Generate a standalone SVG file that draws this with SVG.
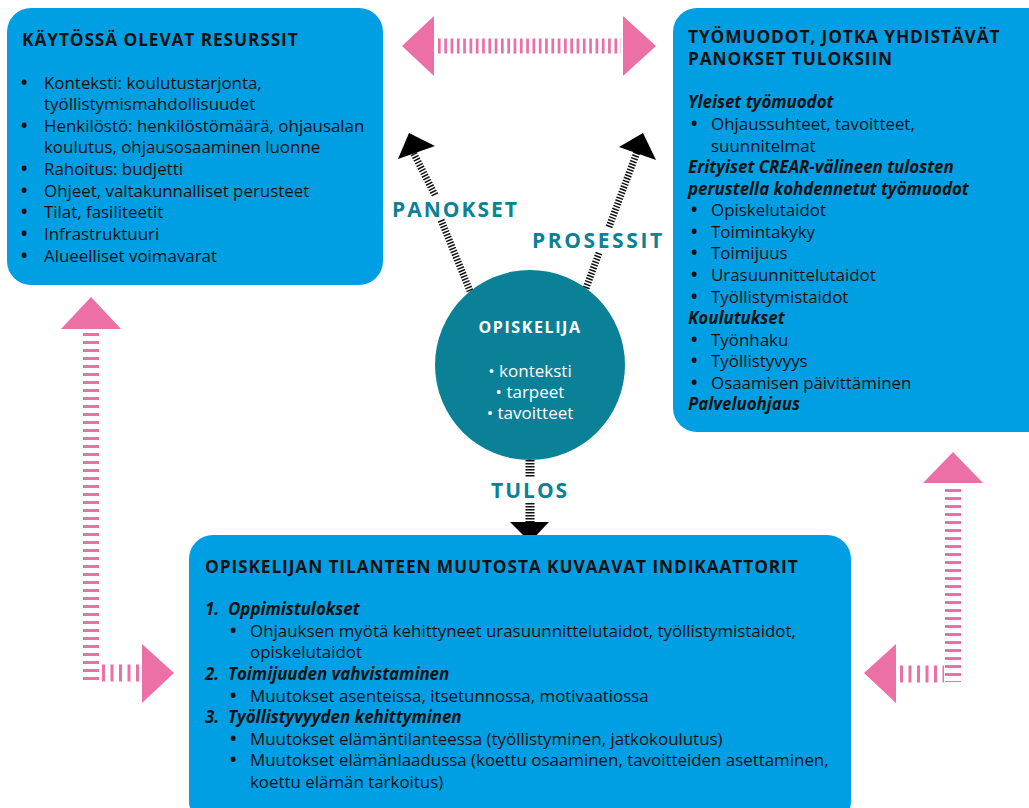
<svg xmlns="http://www.w3.org/2000/svg" width="1029" height="808" viewBox="0 0 1029 808">
<style>
.box{fill:#009fe3}
.t{font-family:"Open Sans","Liberation Sans",sans-serif;font-size:16.9px;fill:#111}
.b{font-weight:bold}
.h{font-family:"Open Sans","Liberation Sans",sans-serif;font-size:17.3px;font-weight:bold;fill:#111;letter-spacing:0.9px}
.bi{font-family:"Open Sans","Liberation Sans",sans-serif;font-size:16.9px;font-weight:bold;font-style:italic;fill:#111}
.lbl{font-family:"Open Sans","Liberation Sans",sans-serif;font-size:21px;font-weight:bold;fill:#0b8197;letter-spacing:2px}
.ct{font-family:"Open Sans","Liberation Sans",sans-serif;font-size:17px;fill:#fff;text-anchor:middle}
.pinkv{stroke:#ec6fa6;stroke-width:16;stroke-dasharray:3 5;fill:none}
.pinkh{stroke:#ec6fa6;stroke-width:17;stroke-dasharray:3 5.5;fill:none}
.blk{stroke:#111;stroke-width:7;stroke-dasharray:1.5 1.5;fill:none}
.ph{fill:#ec6fa6}
</style>
<g id="connectors">
  <line x1="438" y1="46" x2="621" y2="46" style="stroke:#ec6fa6;stroke-width:15;stroke-dasharray:2.7 3.6"/>
  <polygon class="ph" points="402,46 434,16 434,76"/>
  <polygon class="ph" points="656,46 623,16 623,76"/>
  <line class="pinkv" x1="91" y1="333" x2="91" y2="682"/>
  <line class="pinkh" x1="102" y1="673" x2="140" y2="673"/>
  <polygon class="ph" points="91,297 61,329 121,329"/>
  <polygon class="ph" points="174,673 142,644 142,703"/>
  <line class="pinkv" x1="953" y1="489" x2="953" y2="682"/>
  <line class="pinkh" x1="900" y1="674" x2="944" y2="674"/>
  <polygon class="ph" points="953,452 923,483 983,483"/>
  <polygon class="ph" points="864,673 896,644 896,703"/>
  <line class="blk" x1="470" y1="291" x2="441" y2="220"/>
  <line class="blk" x1="435" y1="195" x2="413" y2="152"/>
  <polygon fill="#000" points="409,133 435,146 398,159"/>
  <line class="blk" x1="585" y1="291" x2="599" y2="253"/>
  <line class="blk" x1="609" y1="227" x2="637" y2="152"/>
  <polygon fill="#000" points="643,133 656,160 619,147"/>
  <line x1="530" y1="460" x2="530" y2="478" style="stroke:#111;stroke-width:9;stroke-dasharray:1.5 1.5"/>
  <line x1="530" y1="503" x2="530" y2="522" style="stroke:#111;stroke-width:9;stroke-dasharray:1.5 1.5"/>
  <polygon fill="#000" points="510,522 549,522 530,542"/>
  <text class="lbl" x="392" y="217">PANOKSET</text>
  <text class="lbl" x="532" y="248" style="letter-spacing:2.6px">PROSESSIT</text>
  <text class="lbl" x="491" y="498">TULOS</text>
</g>
<g id="resurssit">
  <rect class="box" x="7" y="8" width="376" height="277" rx="24"/>
  <text class="h" x="22" y="46">KÄYTÖSSÄ OLEVAT RESURSSIT</text>
  <g class="t">
    <text class="b" x="21" y="89">•</text><text x="44" y="89">Konteksti: koulutustarjonta,</text>
    <text x="44" y="110">työllistymismahdollisuudet</text>
    <text class="b" x="21" y="132">•</text><text x="44" y="132">Henkilöstö: henkilöstömäärä, ohjausalan</text>
    <text x="44" y="153">koulutus, ohjausosaaminen luonne</text>
    <text class="b" x="21" y="175">•</text><text x="44" y="175">Rahoitus: budjetti</text>
    <text class="b" x="21" y="197">•</text><text x="44" y="197">Ohjeet, valtakunnalliset perusteet</text>
    <text class="b" x="21" y="218">•</text><text x="44" y="218">Tilat, fasiliteetit</text>
    <text class="b" x="21" y="240">•</text><text x="44" y="240">Infrastruktuuri</text>
    <text class="b" x="21" y="262">•</text><text x="44" y="262">Alueelliset voimavarat</text>
  </g>
</g>
<g id="tyomuodot">
  <rect class="box" x="673" y="8" width="380" height="424" rx="24"/>
  <text class="h" x="688" y="43">TYÖMUODOT, JOTKA YHDISTÄVÄT</text>
  <text class="h" x="688" y="65">PANOKSET TULOKSIIN</text>
  <g class="t">
    <text class="bi" x="688" y="108">Yleiset työmuodot</text>
    <text class="b" x="691" y="130">•</text><text x="711" y="130">Ohjaussuhteet, tavoitteet,</text>
    <text x="711" y="152">suunnitelmat</text>
    <text class="bi" x="688" y="173">Erityiset CREAR-välineen tulosten</text>
    <text class="bi" x="688" y="195">perustella kohdennetut työmuodot</text>
    <text class="b" x="691" y="216">•</text><text x="711" y="216">Opiskelutaidot</text>
    <text class="b" x="691" y="238">•</text><text x="711" y="238">Toimintakyky</text>
    <text class="b" x="691" y="259">•</text><text x="711" y="259">Toimijuus</text>
    <text class="b" x="691" y="281">•</text><text x="711" y="281">Urasuunnittelutaidot</text>
    <text class="b" x="691" y="303">•</text><text x="711" y="303">Työllistymistaidot</text>
    <text class="bi" x="688" y="324">Koulutukset</text>
    <text class="b" x="691" y="346">•</text><text x="711" y="346">Työnhaku</text>
    <text class="b" x="691" y="367">•</text><text x="711" y="367">Työllistyvyys</text>
    <text class="b" x="691" y="389">•</text><text x="711" y="389">Osaamisen päivittäminen</text>
    <text class="bi" x="688" y="410">Palveluohjaus</text>
  </g>
</g>
<g id="opiskelija">
  <circle cx="530" cy="365" r="95" fill="#0b8197"/>
  <text class="ct" x="530" y="333" style="font-weight:bold;font-size:16px;letter-spacing:1.6px">OPISKELIJA</text>
  <text class="ct" x="530" y="377">• konteksti</text>
  <text class="ct" x="530" y="398">• tarpeet</text>
  <text class="ct" x="530" y="419">• tavoitteet</text>
</g>
<g id="indikaattorit">
  <rect class="box" x="189" y="535" width="662" height="290" rx="24"/>
  <text class="h" x="205" y="573">OPISKELIJAN TILANTEEN MUUTOSTA KUVAAVAT INDIKAATTORIT</text>
  <g class="t">
    <text class="bi" x="205" y="615">1.</text><text class="bi" x="228" y="615">Oppimistulokset</text>
    <text class="b" x="230" y="637">•</text><text x="250" y="637">Ohjauksen myötä kehittyneet urasuunnittelutaidot, työllistymistaidot,</text>
    <text x="250" y="658">opiskelutaidot</text>
    <text class="bi" x="205" y="680">2.</text><text class="bi" x="228" y="680">Toimijuuden vahvistaminen</text>
    <text class="b" x="230" y="702">•</text><text x="250" y="702">Muutokset asenteissa, itsetunnossa, motivaatiossa</text>
    <text class="bi" x="205" y="723">3.</text><text class="bi" x="228" y="723">Työllistyvyyden kehittyminen</text>
    <text class="b" x="230" y="745">•</text><text x="250" y="745">Muutokset elämäntilanteessa (työllistyminen, jatkokoulutus)</text>
    <text class="b" x="230" y="766">•</text><text x="250" y="766">Muutokset elämänlaadussa (koettu osaaminen, tavoitteiden asettaminen,</text>
    <text x="250" y="788">koettu elämän tarkoitus)</text>
  </g>
</g>
</svg>
